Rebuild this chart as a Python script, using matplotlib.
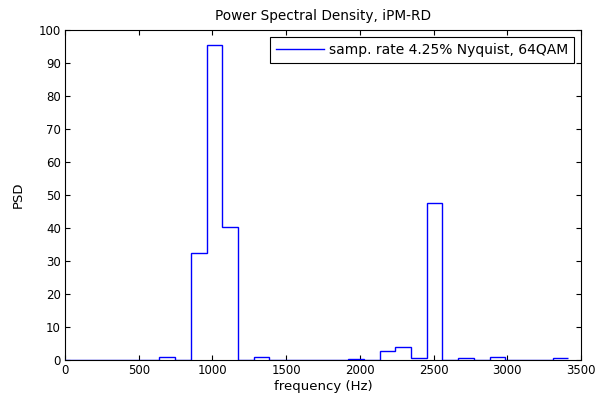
import numpy as np
import matplotlib
matplotlib.use("Agg")
import matplotlib.pyplot as plt

plt.rcParams['font.family'] = ['DejaVu Sans']

# Data: PSD per frequency bin (32 bins)
bin_width_hz = 106.67
psd_values = [0.15, 0.15, 0.15, 0.15, 0.15, 0.15, 0.8, 0.15,
              32.3, 95.6, 40.2, 0.15, 0.8, 0.15, 0.15, 0.15,
              0.15, 0.15, 0.4, 0.15, 2.6, 3.9, 0.7, 47.5,
              0.15, 0.5, 0.15, 0.9, 0.15, 0.15, 0.15, 0.5]
freq_edges = np.arange(len(psd_values) + 1) * bin_width_hz

x_ticks = [0, 500, 1000, 1500, 2000, 2500, 3000, 3500]
y_ticks = [0, 10, 20, 30, 40, 50, 60, 70, 80, 90, 100]
legend_label = "samp. rate 4.25% Nyquist, 64QAM"

fig = plt.figure(figsize=(6.10, 3.96), dpi=100)
ax = fig.add_axes([65/610, 36/396, 516/610, 330/396])

ax.stairs(psd_values, freq_edges, color=(0, 0, 1), linewidth=1.0,
          baseline=None, label=legend_label, zorder=3)

ax.set_xlim(0, 3500)
ax.set_ylim(0, 100)
ax.set_xticks(x_ticks)
ax.set_yticks(y_ticks)
ax.tick_params(direction='in', top=True, right=True, labelsize=8.5,
               length=3.6, width=0.8, pad=3)
for s in ax.spines.values():
    s.set_linewidth(0.8)

ax.set_title("Power Spectral Density, iPM-RD", fontsize=9.8, pad=7)
ax.set_xlabel("frequency (Hz)", fontsize=9.5, labelpad=2)
ax.set_ylabel("PSD", fontsize=9.5, labelpad=10)

leg = ax.legend(loc='upper right', fontsize=10, fancybox=False,
                framealpha=1, edgecolor='black', borderpad=0.45,
                handlelength=3.5, handletextpad=0.3, borderaxespad=0.5)
leg.get_frame().set_linewidth(0.8)
leg.set_zorder(5)

fig.savefig("out.png", dpi=100)
